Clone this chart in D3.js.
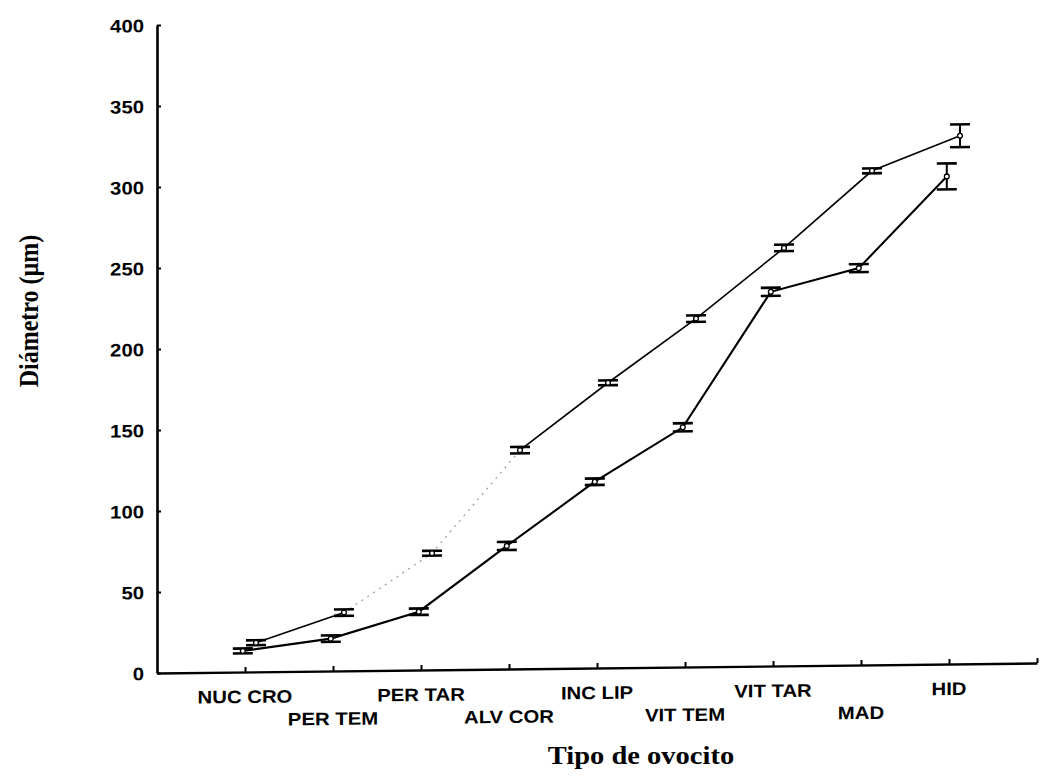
<!DOCTYPE html>
<html>
<head>
<meta charset="utf-8">
<script src="https://cdn.jsdelivr.net/npm/d3@7"></script>
<style>
  body { margin: 0; background: #fff; }
  svg { display: block; }
</style>
</head>
<body>
<svg id="chart" width="1040" height="779"></svg>
<script>
// Oocyte stages along the x axis
const categories = ["NUC CRO", "PER TEM", "PER TAR", "ALV COR", "INC LIP", "VIT TEM", "VIT TAR", "MAD", "HID"];

// Mean diameter (µm) and standard error, lower series
const lowerMean = [13, 20, 36, 76, 115, 148, 231, 245, 301];
const lowerErr  = [1.5, 2, 2, 2.5, 2, 2.5, 2.5, 2.5, 8];

// Mean diameter (µm) and standard error, upper series
const upperMean = [18, 36, 72, 135, 176, 215, 258, 305, 326];
const upperErr  = [1.5, 2, 1.5, 2, 1.5, 2, 2, 1.5, 7];

const yTicks = [0, 50, 100, 150, 200, 250, 300, 350, 400];

const svg = d3.select("#chart");
const W = 880, H = 648;
const fontSans = "'Liberation Sans', Arial, sans-serif";
const fontSerif = "'Liberation Serif', 'Times New Roman', serif";

// plot area; a slight skew keeps the baseline rising gently to the right
const g = svg.append("g").attr("transform", "translate(157,673) skewY(-0.65)");

const x = d3.scaleLinear().domain([0, 10]).range([0, W]);
const y = d3.scaleLinear().domain([0, 400]).range([0, -H]);

// y axis
const yAxis = g.append("g")
  .call(d3.axisLeft(y).tickValues(yTicks).tickSizeInner(-4).tickSizeOuter(0).tickPadding(0));
yAxis.attr("font-family", fontSans).attr("font-size", 18).attr("font-weight", "bold");
yAxis.select(".domain").attr("stroke", "#000").attr("stroke-width", 2.6);
yAxis.selectAll(".tick line").attr("stroke", "#000").attr("stroke-width", 2);
yAxis.selectAll(".tick text")
  .attr("x", null)
  .attr("dy", "0.36em")
  .attr("fill", "#000")
  .attr("transform", "translate(-13,0) scale(1.13,1)");

// x axis
const xAxis = g.append("g")
  .call(d3.axisBottom(x).tickValues(d3.range(1, 11)).tickSizeInner(-5).tickSizeOuter(0).tickFormat(() => ""));
xAxis.select(".domain").attr("stroke", "#000").attr("stroke-width", 2.4);
xAxis.selectAll(".tick line").attr("stroke", "#000").attr("stroke-width", 2);

// staggered stage labels
g.selectAll(".xlab")
  .data(categories)
  .join("text")
  .attr("class", "xlab")
  .attr("transform", (d, i) => `translate(${x(i + 1)},${i % 2 ? 54 : 31}) scale(1.13,1)`)
  .attr("text-anchor", "middle")
  .attr("font-family", fontSans)
  .attr("font-size", 18)
  .attr("font-weight", "bold")
  .attr("fill", "#000")
  .text(d => d);

// draws one series: line, error bars and open markers
function drawSeries(mean, err, shift, width, fadedFrom, fadedTo) {
  const pts = mean.map((m, i) => ({ i, m, e: err[i], px: x(i + 1 + shift) }));
  const line = d3.line().x(d => d.px).y(d => y(d.m));

  if (fadedFrom == null) {
    g.append("path").datum(pts).attr("d", line)
      .attr("fill", "none").attr("stroke", "#000").attr("stroke-width", width);
  } else {
    g.append("path").datum(pts.slice(0, fadedFrom + 1)).attr("d", line)
      .attr("fill", "none").attr("stroke", "#000").attr("stroke-width", width);
    g.append("path").datum(pts.slice(fadedFrom, fadedTo + 1)).attr("d", line)
      .attr("fill", "none").attr("stroke", "#9a9a9a").attr("stroke-width", 1.2)
      .attr("stroke-dasharray", "2,5");
    g.append("path").datum(pts.slice(fadedTo)).attr("d", line)
      .attr("fill", "none").attr("stroke", "#000").attr("stroke-width", width);
  }

  const bars = g.append("g").selectAll("g").data(pts).join("g");
  bars.append("line")
    .attr("x1", d => d.px).attr("x2", d => d.px)
    .attr("y1", d => y(d.m - d.e)).attr("y2", d => y(d.m + d.e))
    .attr("stroke", "#000").attr("stroke-width", 2);
  [-1, 1].forEach(s => {
    bars.append("line")
      .attr("x1", d => d.px - 10).attr("x2", d => d.px + 10)
      .attr("y1", d => y(d.m + s * d.e)).attr("y2", d => y(d.m + s * d.e))
      .attr("stroke", "#000").attr("stroke-width", 2.6);
  });
  bars.append("circle")
    .attr("cx", d => d.px).attr("cy", d => y(d.m)).attr("r", 2.4)
    .attr("fill", "#fff").attr("stroke", "#000").attr("stroke-width", 1.3);
}

drawSeries(upperMean, upperErr, 0.125, 1.6, 1, 3);
drawSeries(lowerMean, lowerErr, -0.025, 2.1);

// axis titles
svg.append("text")
  .attr("transform", "translate(641,764) scale(1.14,1)")
  .attr("text-anchor", "middle")
  .attr("font-family", fontSerif)
  .attr("font-size", 25)
  .attr("font-weight", "bold")
  .attr("fill", "#000")
  .text("Tipo de ovocito");

svg.append("text")
  .attr("transform", "translate(38,311) rotate(-90) scale(1,1.15)")
  .attr("text-anchor", "middle")
  .attr("font-family", fontSerif)
  .attr("font-size", 24)
  .attr("font-weight", "bold")
  .attr("fill", "#000")
  .text("Diámetro (µm)");
</script>
</body>
</html>
